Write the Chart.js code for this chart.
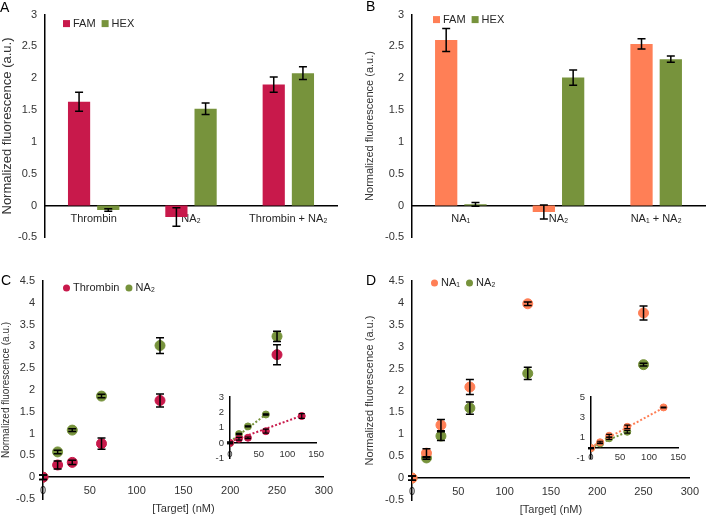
<!DOCTYPE html>
<html>
<head>
<meta charset="utf-8">
<script src="https://cdn.jsdelivr.net/npm/chart.js@4.4.1/dist/chart.umd.min.js"></script>
<style>
html, body { margin: 0; padding: 0; background: #fff; }
#wrap { position: relative; width: 706px; height: 515px; overflow: hidden; font-family: "Liberation Sans", Arial, sans-serif; }
.box { position: absolute; }
.tag { position: absolute; font-size: 14px; line-height: 16px; color: #000; }
</style>
</head>
<body>
<div id="wrap">
  <div class="box" style="left:0;top:0;width:345px;height:252px"><canvas id="chartA"></canvas></div>
  <div class="box" style="left:353px;top:0;width:353px;height:252px"><canvas id="chartB"></canvas></div>
  <div class="box" style="left:0;top:255px;width:340px;height:260px"><canvas id="chartC"></canvas></div>
  <div class="box" style="left:353px;top:255px;width:353px;height:260px"><canvas id="chartD"></canvas></div>
  <div class="box" style="left:200px;top:385px;width:130px;height:85px"><canvas id="insetC"></canvas></div>
  <div class="box" style="left:560px;top:385px;width:130px;height:85px"><canvas id="insetD"></canvas></div>
  <div class="tag" style="left:0;top:-1px">A</div>
  <div class="tag" style="left:366px;top:-2px">B</div>
  <div class="tag" style="left:1px;top:272px">C</div>
  <div class="tag" style="left:366px;top:272px">D</div>
</div>
<script>
// panel A
const catsA = ['Thrombin', 'NA₂', 'Thrombin + NA₂'];
const famA = [1.63, -0.18, 1.90];
const famAErr = [0.15, 0.145, 0.12];
const hexA = [-0.07, 1.52, 2.08];
const hexAErr = [0.02, 0.09, 0.10];

// panel B
const catsB = ['NA₁', 'NA₂', 'NA₁ + NA₂'];
const famB = [2.60, -0.10, 2.54];
const famBErr = [0.18, 0.11, 0.08];
const hexB = [0.02, 2.01, 2.30];
const hexBErr = [0.03, 0.12, 0.05];

// panels C / D, target concentration (nM)
const conc = [0, 15.625, 31.25, 62.5, 125, 250];
const thrombinC = [0, 0.28, 0.34, 0.77, 1.76, 2.81];
const thrombinCErr = [0.05, 0.09, 0.05, 0.13, 0.15, 0.23];
const na2C = [0, 0.58, 1.08, 1.86, 3.02, 3.23];
const na2CErr = [0.05, 0.04, 0.03, 0.04, 0.18, 0.12];
const na1D = [0, 0.57, 1.21, 2.08, 3.98, 3.77];
const na1DErr = [0.05, 0.10, 0.13, 0.17, 0.04, 0.16];
const na2D = [0, 0.46, 0.96, 1.60, 2.39, 2.59];
const na2DErr = [0.05, 0.03, 0.10, 0.14, 0.14, 0.03];

// inset trend lines (end points)
const thrombinFitX = [0, 125], thrombinFitY = [0.08, 1.78];
const na2FitCX = [0, 62.5], na2FitCY = [0.08, 1.86];
const na1FitX = [0, 130], na1FitY = [0.1, 4.1];
const na2FitDX = [0, 62.5], na2FitDY = [0.05, 1.6];

const CRIMSON = '#C8194B', OLIVE = '#77933C', CORAL = '#FF7F56';
const FONT = '"Liberation Sans", Arial, sans-serif';
const TEXT = '#333';
const YTITLE = 'Normalized fluorescence (a.u.)';

Chart.defaults.font.family = FONT;
Chart.defaults.font.size = 11;
Chart.defaults.color = TEXT;
Chart.defaults.animation = false;

const pts = (xs, ys) => xs.map((x, i) => ({x, y: ys[i]}));

const errorBars = {
    id: 'errorBars',
    afterDatasetsDraw(chart, args, opts) {
        const ctx = chart.ctx, ys = chart.scales.y, cap = opts.cap || 4;
        ctx.save();
        ctx.strokeStyle = '#000';
        ctx.lineWidth = opts.width || 1.5;
        chart.data.datasets.forEach((ds, i) => {
            if (!ds.errors) return;
            chart.getDatasetMeta(i).data.forEach((el, j) => {
                const e = ds.errors[j];
                if (e == null) return;
                const v = typeof ds.data[j] === 'object' ? ds.data[j].y : ds.data[j];
                const t = ys.getPixelForValue(v + e), b = ys.getPixelForValue(v - e);
                ctx.beginPath();
                ctx.moveTo(el.x, t); ctx.lineTo(el.x, b);
                ctx.moveTo(el.x - cap, t); ctx.lineTo(el.x + cap, t);
                ctx.moveTo(el.x - cap, b); ctx.lineTo(el.x + cap, b);
                ctx.stroke();
            });
        });
        ctx.restore();
    }
};

// small legend drawn inside the plot area
const keyBox = {
    id: 'keyBox',
    afterDraw(chart, args, o) {
        if (!o.show) return;
        const ctx = chart.ctx, a = chart.chartArea;
        let x = a.left + o.x;
        const y = a.top + o.y;
        ctx.save();
        ctx.font = '11px ' + FONT;
        ctx.textBaseline = 'middle';
        chart.data.datasets.forEach(ds => {
            if (!ds.label) return;
            ctx.fillStyle = ds.backgroundColor;
            if (o.dot) { ctx.beginPath(); ctx.arc(x + 3.5, y, 3.5, 0, Math.PI * 2); ctx.fill(); }
            else ctx.fillRect(x, y - 3.5, 7, 7);
            x += 10;
            ctx.fillStyle = '#262626';
            ctx.fillText(ds.label, x, y);
            x += ctx.measureText(ds.label).width + 6;
        });
        ctx.restore();
    }
};

function axisY(min, max, step, width, title, size) {
    return {
        min, max,
        grid: {display: false, drawTicks: false},
        border: {color: '#000', width: 1.5},
        ticks: {stepSize: step, padding: 8, font: {size: size || 11}, callback: v => v},
        title: {display: !!title, text: title, font: {size: 11}, padding: 0},
        afterFit: s => { s.width = width; }
    };
}

function barChart(id, cats, fam, famErr, hex, hexErr, famColor, pad, yw, key, titleSize) {
    const y = axisY(-0.5, 3, 0.5, yw, YTITLE);
    y.title.font.size = titleSize;
    new Chart(document.getElementById(id), {
        type: 'bar',
        data: {labels: cats, datasets: [
            {label: 'FAM', data: fam, errors: famErr, backgroundColor: famColor, categoryPercentage: 0.6, barPercentage: 0.76},
            {label: 'HEX', data: hex, errors: hexErr, backgroundColor: OLIVE, categoryPercentage: 0.6, barPercentage: 0.76}
        ]},
        options: {
            responsive: true, maintainAspectRatio: false,
            layout: {padding: pad},
            plugins: {legend: {display: false}, tooltip: {enabled: false}, keyBox: key, errorBars: {cap: 4}},
            scales: {
                x: {position: {y: 0}, grid: {display: false, drawTicks: false}, border: {color: '#000', width: 1.5},
                    ticks: {padding: 7, color: '#262626', maxRotation: 0, autoSkip: false}},
                y
            }
        },
        plugins: [errorBars, keyBox]
    });
}

function doseChart(id, sets, pad, yw, key, titleSize) {
    const y = axisY(-0.5, 4.5, 0.5, yw, YTITLE);
    y.title.font.size = titleSize;
    new Chart(document.getElementById(id), {
        type: 'scatter',
        data: {datasets: sets.map(s => ({label: s.label, data: pts(conc, s.y), errors: s.err,
            backgroundColor: s.color, borderColor: s.color, pointRadius: 5, pointHoverRadius: 5}))},
        options: {
            responsive: true, maintainAspectRatio: false,
            layout: {padding: pad},
            plugins: {legend: {display: false}, tooltip: {enabled: false}, keyBox: key, errorBars: {cap: 4}},
            scales: {
                x: {type: 'linear', position: {y: 0}, min: 0, max: 300,
                    grid: {display: false, drawTicks: false}, border: {color: '#000', width: 1.5},
                    ticks: {stepSize: 50, padding: 7, callback: v => v},
                    title: {display: true, text: '[Target] (nM)', font: {size: 11, lineHeight: 0.85}, padding: {top: 0, bottom: 0}}},
                y
            }
        },
        plugins: [errorBars, keyBox]
    });
}

function insetChart(id, sets, fits, yMin, yMax, yStep, pad, xPad) {
    const data = [];
    sets.forEach(s => data.push({data: pts(conc.slice(0, s.n), s.y.slice(0, s.n)), errors: s.err.slice(0, s.n),
        backgroundColor: s.color, borderColor: s.color, pointRadius: 3.5, order: 1}));
    fits.forEach(f => data.push({data: pts(f.x, f.y), showLine: true, borderColor: f.color, borderWidth: 2,
        borderDash: [2, 2], pointRadius: 0, order: 2}));
    new Chart(document.getElementById(id), {
        type: 'scatter',
        data: {datasets: data},
        options: {
            responsive: true, maintainAspectRatio: false,
            layout: {padding: pad},
            plugins: {legend: {display: false}, tooltip: {enabled: false}, errorBars: {cap: 3, width: 1.2}},
            scales: {
                x: {type: 'linear', position: {y: 0}, min: 0, max: 150,
                    grid: {display: false, drawTicks: false}, border: {color: '#000', width: 1.5},
                    ticks: {stepSize: 50, padding: xPad, font: {size: 9.5}, callback: v => v}},
                y: {min: yMin, max: yMax, grid: {display: false, drawTicks: false}, border: {color: '#000', width: 1.5},
                    ticks: {stepSize: yStep, padding: 6, font: {size: 9.5}, callback: v => v},
                    afterFit: s => { s.width = 30; }}
            }
        },
        plugins: [errorBars]
    });
}

barChart('chartA', catsA, famA, famAErr, hexA, hexAErr, CRIMSON,
    {left: 0, right: 8, top: 7, bottom: 8}, 45, {show: true, dot: false, x: 18, y: 9}, 13);
barChart('chartB', catsB, famB, famBErr, hexB, hexBErr, CORAL,
    {left: 10, right: 1, top: 7, bottom: 7}, 49, {show: true, dot: false, x: 21, y: 5}, 11);

doseChart('chartC', [
    {label: 'Thrombin', y: thrombinC, err: thrombinCErr, color: CRIMSON},
    {label: 'NA₂', y: na2C, err: na2CErr, color: OLIVE}
], {left: 0, right: 14, top: 26, bottom: 16}, 43, {show: true, dot: true, x: 20, y: 7}, 10);
doseChart('chartD', [
    {label: 'NA₁', y: na1D, err: na1DErr, color: CORAL},
    {label: 'NA₂', y: na2D, err: na2DErr, color: OLIVE}
], {left: 10, right: 13, top: 26, bottom: 15}, 49, {show: true, dot: true, x: 19, y: 2}, 11);

insetChart('insetC', [
    {y: thrombinC, err: thrombinCErr, color: CRIMSON, n: 5},
    {y: na2C, err: na2CErr, color: OLIVE, n: 4}
], [
    {x: thrombinFitX, y: thrombinFitY, color: CRIMSON},
    {x: na2FitCX, y: na2FitCY, color: OLIVE}
], -1, 3, 1, {left: 0, right: 12, top: 12, bottom: 9}, 6);
insetChart('insetD', [
    {y: na1D, err: na1DErr, color: CORAL, n: 5},
    {y: na2D, err: na2DErr, color: OLIVE, n: 4}
], [
    {x: na1FitX, y: na1FitY, color: CORAL},
    {x: na2FitDX, y: na2FitDY, color: OLIVE}
], -1, 5, 2, {left: 1, right: 10, top: 12, bottom: 8}, 4);
</script>
</body>
</html>
